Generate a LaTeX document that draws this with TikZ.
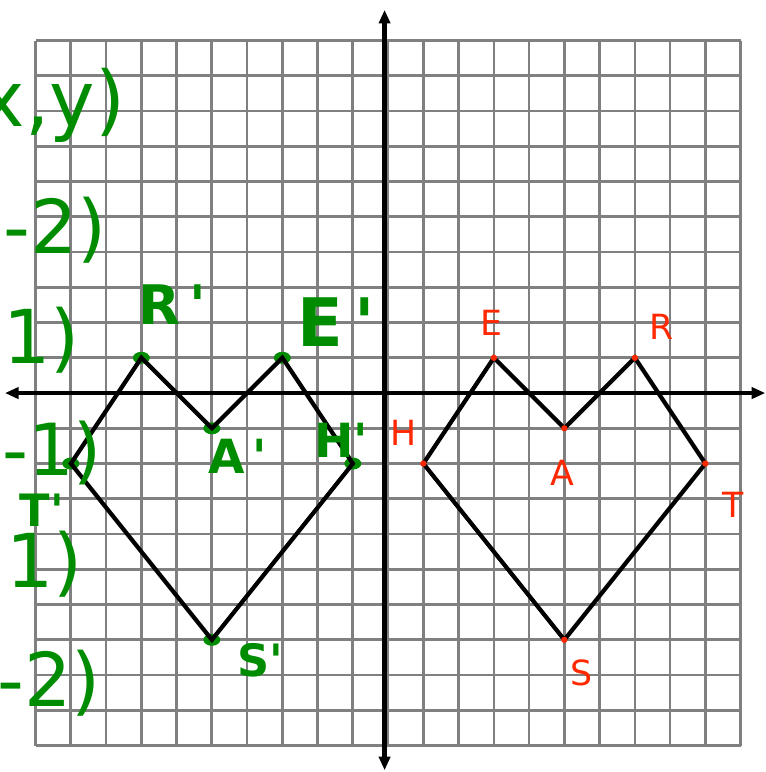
\documentclass[tikz,border=0pt]{standalone}
\usepackage{fontspec}
\setsansfont{DejaVu Sans}
\usetikzlibrary{arrows.meta}
\definecolor{pencilgreen}{RGB}{0,140,0}
\definecolor{markred}{RGB}{255,40,0}
\newcommand{\tick}{\textquotesingle}

\begin{document}
\begin{tikzpicture}[
    gridline/.style={draw=black!50, line width=2.2pt},
    axis/.style={line width=3.6pt, {Triangle[length=11pt,width=9pt]}-{Triangle[length=11pt,width=9pt]}},
    heart/.style={line width=3.4pt},
    reddot/.style={fill=markred},
    greendot/.style={fill=pencilgreen},
    redlabel/.style={text=markred, font=\sffamily\fontsize{28}{28}\selectfont},
    greenlabel/.style={text=pencilgreen, font=\sffamily\bfseries\fontsize{#1}{#1}\selectfont, inner sep=0pt},
    scrawl/.style={text=pencilgreen, font=\sffamily\fontsize{#1}{#1}\selectfont,
                   anchor=east, inner sep=0pt}
  ]
  \useasboundingbox (-11.01,-10.75) rectangle (10.70,11.15);

  % Grid and axes
  \draw[gridline] (-10,-10) grid (10,10);
  \coordinate (xmin) at (-10.87,0);
  \coordinate (xmax) at (10.70,0);
  \coordinate (ymin) at (-0.1,-10.70);
  \coordinate (ymax) at (-0.1,10.87);
  \draw[axis] (xmin) -- (xmax);
  \draw[axis] (ymin) -- (ymax);

  % Original figure HEART
  \coordinate (H) at (1,-2);
  \coordinate (E) at (3,1);
  \coordinate (A) at (5,-1);
  \coordinate (R) at (7,1);
  \coordinate (T) at (9,-2);
  \coordinate (S) at (5,-7);

  % Reflected figure
  \coordinate (Hp) at (-1,-2);
  \coordinate (Ep) at (-3,1);
  \coordinate (Ap) at (-5,-1);
  \coordinate (Rp) at (-7,1);
  \coordinate (Tp) at (-9,-2);
  \coordinate (Sp) at (-5,-7);

  \foreach \p in {Hp,Ep,Ap,Rp,Tp,Sp}
    \fill[greendot] (\p) ellipse (0.24 and 0.17);

  \draw[heart] (H) -- (E) -- (A) -- (R) -- (T) -- (S) -- cycle;
  \draw[heart] (Hp) -- (Ep) -- (Ap) -- (Rp) -- (Tp) -- (Sp) -- cycle;

  \foreach \p in {H,E,A,R,T,S}
    \fill[reddot] (\p) circle (0.09);

  % Labels
  \node[redlabel] (labE) at (2.92,1.99)   {E};
  \node[redlabel] (labR) at (7.77,1.87)   {R};
  \node[redlabel] (labH) at (0.45,-1.13)  {H};
  \node[redlabel] (labA) at (4.94,-2.27)  {A};
  \node[redlabel] (labT) at (9.79,-3.18)  {T};
  \node[redlabel] (labS) at (5.50,-7.94)  {S};

  \node[greenlabel=44] (labRp) at (-6.13,2.50)  {R\,\tick};
  \node[greenlabel=54] (labEp) at (-1.48,2.01)  {E\,\tick};
  \node[greenlabel=38] (labAp) at (-4.26,-1.79) {A\,\tick};
  \node[greenlabel=38] (labHp) at (-1.33,-1.33) {H\tick};
  \node[greenlabel=36] (labSp) at (-3.63,-7.57) {S\tick};
  \node[greenlabel=36] (labTp) at (-9.82,-3.33) {T\tick};

  % Notes cut off at the left edge
  \node[scrawl=62] (ruleXY) at (-7.45,8.17)  {x,y)};
  \node[scrawl=60] (rowH)   at (-7.97,4.62)  {-2)};
  \node[scrawl=60] (rowE)   at (-8.74,1.50)  {1)};
  \node[scrawl=58] (rowA)   at (-8.11,-1.70) {-1)};
  \node[scrawl=60] (rowR)   at (-8.65,-4.85) {1)};
  \node[scrawl=60] (rowT)   at (-8.15,-8.23) {-2)};
\end{tikzpicture}
\end{document}
